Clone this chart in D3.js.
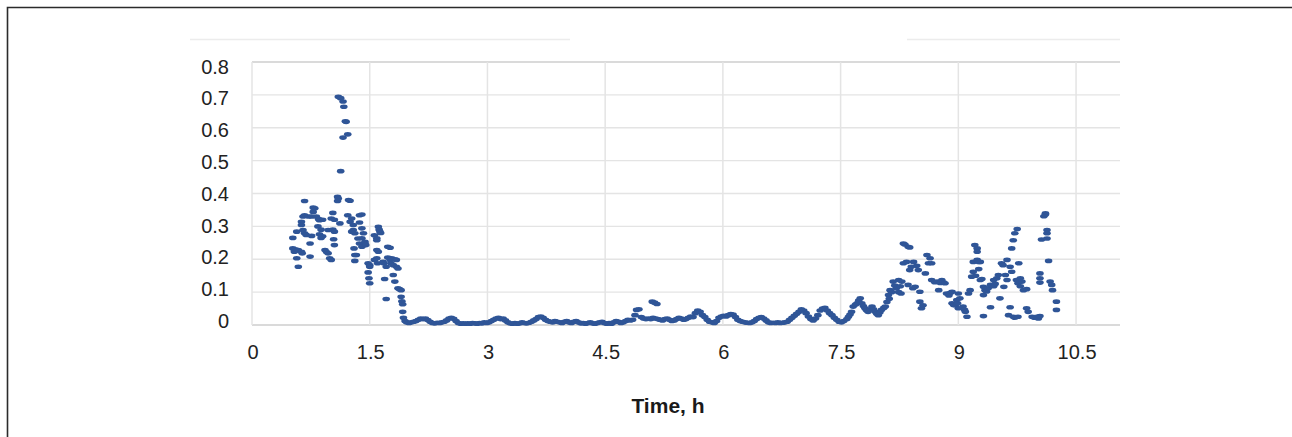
<!DOCTYPE html>
<html>
<head>
<meta charset="utf-8">
<script src="https://cdn.jsdelivr.net/npm/d3@7"></script>
<style>
  html, body { margin: 0; padding: 0; background: #fff; }
  svg { display: block; }
</style>
</head>
<body>
<svg id="chart" width="1292" height="437"></svg>
<script>
// Axis ticks
const xTicks = [0, 1.5, 3, 4.5, 6, 7.5, 9, 10.5];
const xTickLabels = ["0", "1.5", "3", "4.5", "6", "7.5", "9", "10.5"];
const yTicks = [0, 0.1, 0.2, 0.3, 0.4, 0.5, 0.6, 0.7, 0.8];
const yTickLabels = ["0", "0.1", "0.2", "0.3", "0.4", "0.5", "0.6", "0.7", "0.8"];
const xTitle = "Time, h";

// Readings as [time (h), value]
const startPhase = [
  [0.52,0.265],[0.52,0.233],[0.54,0.223],[0.55,0.230],[0.57,0.284],[0.57,0.203],[0.59,0.177],[0.59,0.228],
  [0.63,0.314],[0.63,0.304],[0.63,0.223],[0.64,0.218],[0.65,0.330],[0.65,0.289],[0.67,0.377],[0.67,0.334],
  [0.67,0.279],[0.69,0.274],[0.72,0.330],[0.74,0.248],[0.74,0.208],[0.76,0.271],[0.76,0.330],[0.78,0.357],
  [0.78,0.344],[0.80,0.355],[0.82,0.330],[0.84,0.300],[0.85,0.322],[0.86,0.319],[0.86,0.276],[0.88,0.265],
  [0.88,0.290],[0.90,0.320],[0.90,0.270],[0.93,0.228],[0.95,0.222],[0.97,0.289],[0.97,0.218],[0.99,0.203],
  [1.01,0.324],[1.01,0.198],[1.03,0.341],[1.03,0.290],[1.04,0.261],[1.05,0.320],[1.05,0.284],[1.05,0.243],
  [1.09,0.390],[1.09,0.377],[1.10,0.694],[1.10,0.385],[1.12,0.309],[1.13,0.690],[1.13,0.468],[1.16,0.680],
  [1.16,0.570],[1.17,0.664],[1.19,0.620],[1.20,0.618],[1.22,0.580],[1.22,0.334],[1.23,0.380],[1.25,0.378],
  [1.25,0.314],[1.27,0.324],[1.27,0.284],[1.29,0.304],[1.29,0.289],[1.30,0.233],[1.31,0.279],[1.31,0.213],
  [1.31,0.195],[1.33,0.213],[1.35,0.263],[1.37,0.312],[1.37,0.334],[1.37,0.248],[1.40,0.336],[1.40,0.294],
  [1.40,0.264],[1.40,0.238],[1.42,0.279],[1.44,0.253],[1.44,0.248],[1.45,0.243],[1.48,0.188],[1.48,0.160],
  [1.49,0.142],[1.50,0.182],[1.50,0.177],[1.50,0.127],[1.56,0.273],[1.56,0.198],[1.59,0.264],[1.59,0.203],
  [1.59,0.228],[1.59,0.258],[1.60,0.188],[1.61,0.299],[1.61,0.223],[1.62,0.290],[1.63,0.284],[1.64,0.280],
  [1.67,0.192],[1.68,0.188],[1.69,0.140],[1.71,0.177],[1.71,0.079],[1.73,0.205],[1.73,0.238],[1.76,0.235],
  [1.76,0.198],[1.77,0.188],[1.78,0.203],[1.80,0.182],[1.80,0.152],[1.82,0.132],[1.82,0.200],[1.84,0.177],
  [1.84,0.198],[1.86,0.172],[1.86,0.112],[1.88,0.109],[1.90,0.086],[1.90,0.106],[1.91,0.072],[1.92,0.063],
  [1.92,0.040],[1.93,0.022]
];

const quietPhase = [
  [1.95,0.012],[1.97,0.008],[2.00,0.006],[2.03,0.008],[2.06,0.010],[2.09,0.012],[2.12,0.016],[2.15,0.020],
  [2.18,0.018],[2.21,0.020],[2.24,0.015],[2.27,0.010],[2.30,0.006],[2.33,0.005],[2.36,0.007],[2.39,0.006],
  [2.42,0.008],[2.45,0.010],[2.48,0.014],[2.51,0.020],[2.54,0.022],[2.57,0.019],[2.60,0.012],[2.63,0.006],
  [2.66,0.004],[2.69,0.005],[2.72,0.004],[2.75,0.005],[2.78,0.004],[2.81,0.006],[2.84,0.005],[2.87,0.004],
  [2.90,0.006],[2.93,0.005],[2.96,0.008],[2.99,0.006],[3.02,0.008],[3.05,0.012],[3.08,0.016],[3.11,0.020],
  [3.14,0.022],[3.17,0.018],[3.20,0.020],[3.23,0.014],[3.26,0.008],[3.29,0.005],[3.32,0.004],[3.35,0.006],
  [3.38,0.004],[3.41,0.005],[3.44,0.008],[3.47,0.006],[3.50,0.005],[3.53,0.007],[3.56,0.010],[3.59,0.014],
  [3.62,0.018],[3.65,0.024],[3.68,0.026],[3.71,0.022],[3.74,0.016],[3.77,0.012],[3.80,0.010],[3.83,0.008],
  [3.86,0.012],[3.89,0.010],[3.92,0.008],[3.95,0.006],[3.98,0.010],[4.01,0.012],[4.04,0.008],[4.07,0.006],
  [4.10,0.010],[4.13,0.012],[4.16,0.008],[4.19,0.005],[4.22,0.006],[4.25,0.004],[4.28,0.006],[4.31,0.008],
  [4.34,0.005],[4.37,0.004],[4.40,0.006],[4.43,0.008],[4.46,0.010],[4.49,0.006],[4.52,0.004],[4.55,0.006],
  [4.58,0.004],[4.61,0.008],[4.64,0.012],[4.67,0.010],[4.70,0.006],[4.73,0.008],[4.76,0.012],[4.79,0.016],
  [4.82,0.014],[4.85,0.016],[4.88,0.030],[4.90,0.046],[4.93,0.048],[4.96,0.024],[4.99,0.020],[5.02,0.018],
  [5.05,0.020],[5.08,0.018],[5.10,0.071],[5.13,0.068],[5.16,0.064],[5.11,0.022],[5.14,0.020],[5.17,0.018],
  [5.20,0.016],[5.23,0.014],[5.26,0.018],[5.29,0.020],[5.32,0.016],[5.35,0.012],[5.38,0.014],[5.41,0.018],
  [5.44,0.022],[5.47,0.020],[5.50,0.016],[5.53,0.018],[5.56,0.022],[5.59,0.026],[5.62,0.024],[5.65,0.036],
  [5.68,0.044],[5.71,0.040],[5.74,0.030],[5.77,0.024],[5.80,0.016],[5.83,0.010],[5.86,0.008],[5.89,0.006],
  [5.92,0.012],[5.95,0.022],[5.98,0.026],[6.01,0.028],[6.04,0.026],[6.07,0.030],[6.10,0.033],[6.13,0.032],
  [6.16,0.024],[6.19,0.016],[6.22,0.012],[6.25,0.010],[6.28,0.008],[6.31,0.007],[6.34,0.006],[6.37,0.008],
  [6.40,0.012],[6.43,0.018],[6.46,0.022],[6.49,0.024],[6.52,0.020],[6.55,0.014],[6.58,0.008],[6.61,0.006],
  [6.64,0.007],[6.67,0.006],[6.70,0.008],[6.73,0.006],[6.76,0.007],[6.79,0.008],[6.82,0.010],[6.85,0.016],
  [6.88,0.022],[6.91,0.028],[6.94,0.034],[6.97,0.040],[7.00,0.048],[7.03,0.044],[7.06,0.036],[7.09,0.026],
  [7.12,0.018],[7.15,0.014],[7.18,0.020],[7.21,0.030],[7.24,0.044],[7.27,0.050],[7.30,0.052],[7.33,0.044],
  [7.36,0.036],[7.39,0.030],[7.42,0.022],[7.45,0.016],[7.48,0.010],[7.51,0.008],[7.54,0.012]
];

const latePhase = [
  [7.58,0.018],[7.60,0.025],[7.62,0.032],[7.64,0.040],[7.66,0.056],[7.69,0.062],[7.71,0.066],[7.73,0.074],
  [7.75,0.081],[7.77,0.066],[7.79,0.058],[7.81,0.051],[7.83,0.045],[7.85,0.040],[7.88,0.048],[7.90,0.056],
  [7.92,0.048],[7.94,0.040],[7.96,0.034],[7.98,0.030],[8.00,0.038],[8.02,0.046],[8.05,0.052],[8.07,0.056],
  [8.09,0.070],[8.11,0.091],[8.12,0.080],[8.13,0.106],[8.15,0.100],[8.17,0.132],[8.19,0.120],[8.21,0.112],
  [8.24,0.137],[8.26,0.118],[8.28,0.132],[8.24,0.100],[8.27,0.096],[8.30,0.248],[8.32,0.245],[8.36,0.238],
  [8.38,0.236],[8.30,0.188],[8.34,0.192],[8.36,0.122],[8.38,0.167],[8.40,0.177],[8.42,0.112],[8.43,0.192],
  [8.45,0.116],[8.47,0.180],[8.49,0.167],[8.51,0.101],[8.51,0.071],[8.53,0.051],[8.55,0.060],[8.58,0.157],
  [8.60,0.213],[8.62,0.188],[8.64,0.203],[8.66,0.188],[8.66,0.137],[8.70,0.130],[8.73,0.132],[8.75,0.106],
  [8.77,0.128],[8.79,0.137],[8.81,0.130],[8.83,0.127],[8.85,0.096],[8.88,0.090],[8.90,0.098],[8.92,0.101],
  [8.92,0.066],[8.94,0.061],[8.96,0.060],[8.98,0.076],[8.99,0.066],[9.00,0.096],[9.00,0.051],[9.02,0.081],
  [9.06,0.056],[9.08,0.046],[9.09,0.040],[9.11,0.025],[9.13,0.096],[9.15,0.106],[9.17,0.147],[9.19,0.162],
  [9.19,0.192],[9.21,0.243],[9.22,0.150],[9.24,0.233],[9.24,0.223],[9.24,0.198],[9.26,0.192],[9.26,0.170],
  [9.28,0.137],[9.28,0.192],[9.30,0.140],[9.32,0.116],[9.32,0.091],[9.32,0.027],[9.34,0.106],[9.36,0.102],
  [9.38,0.112],[9.41,0.122],[9.41,0.054],[9.45,0.137],[9.45,0.118],[9.47,0.125],[9.49,0.142],[9.51,0.152],
  [9.53,0.081],[9.55,0.188],[9.57,0.182],[9.58,0.116],[9.60,0.152],[9.62,0.137],[9.62,0.198],[9.64,0.030],
  [9.66,0.054],[9.66,0.177],[9.68,0.162],[9.68,0.233],[9.70,0.258],[9.70,0.025],[9.72,0.279],[9.72,0.022],
  [9.74,0.137],[9.75,0.292],[9.76,0.127],[9.76,0.025],[9.77,0.188],[9.79,0.142],[9.79,0.118],[9.81,0.132],
  [9.83,0.106],[9.87,0.051],[9.87,0.109],[9.89,0.040],[9.94,0.025],[9.97,0.022],[10.00,0.025],[10.02,0.020],
  [10.04,0.027],[10.04,0.157],[10.04,0.142],[10.04,0.129],[10.06,0.260],[10.09,0.331],[10.11,0.340],[10.11,0.336],
  [10.13,0.289],[10.13,0.279],[10.13,0.263],[10.15,0.195],[10.17,0.132],[10.19,0.122],[10.20,0.106],[10.25,0.071],
  [10.25,0.046]
];

const svg = d3.select("#chart");
const font = "'Liberation Sans', Arial, sans-serif";
const plot = { left: 252, right: 1120, top: 62, bottom: 325 };

const x = d3.scaleLinear().domain([0, 11.06]).range([plot.left, plot.right]);
const y = d3.scaleLinear().domain([0, 0.8]).range([plot.bottom, plot.top]);
// Tick labels sit on a slightly tighter vertical spread than the gridlines
const yLabel = d3.scaleLinear().domain([0, 0.8]).range([321, 66.5]);

// Outer frame (top and left edges)
svg.append("path")
  .attr("d", "M7.5,437 V7.5 H1292")
  .attr("fill", "none")
  .attr("stroke", "#2b2b2b")
  .attr("stroke-width", 1.6);

// Faint header rule above the plot
svg.append("g").selectAll("line")
  .data([[190, 570], [907, 1120]])
  .join("line")
  .attr("x1", d => d[0]).attr("x2", d => d[1])
  .attr("y1", 39.5).attr("y2", 39.5)
  .attr("stroke", "#ececec").attr("stroke-width", 1.5);

// Horizontal gridlines
svg.append("g").selectAll("line")
  .data(yTicks)
  .join("line")
  .attr("x1", plot.left).attr("x2", plot.right)
  .attr("y1", d => y(d)).attr("y2", d => y(d))
  .attr("stroke", d => (d === 0 || d === 0.8) ? "#dadada" : "#e4e4e4")
  .attr("stroke-width", d => (d === 0 || d === 0.8) ? 2 : 1.3);

// Vertical gridlines
svg.append("g").selectAll("line")
  .data(xTicks)
  .join("line")
  .attr("x1", d => x(d)).attr("x2", d => x(d))
  .attr("y1", plot.top).attr("y2", plot.bottom)
  .attr("stroke", "#e4e4e4")
  .attr("stroke-width", 1.5);

// Y tick labels
svg.append("g").selectAll("text")
  .data(yTicks)
  .join("text")
  .attr("x", 229)
  .attr("y", d => yLabel(d))
  .attr("text-anchor", "end")
  .attr("dominant-baseline", "central")
  .attr("font-family", font)
  .attr("font-size", 20)
  .attr("fill", "#222")
  .text((d, i) => yTickLabels[i]);

// X tick labels
svg.append("g").selectAll("text")
  .data(xTicks)
  .join("text")
  .attr("x", d => x(d) + 1)
  .attr("y", 352)
  .attr("text-anchor", "middle")
  .attr("dominant-baseline", "central")
  .attr("font-family", font)
  .attr("font-size", 20)
  .attr("fill", "#222")
  .text((d, i) => xTickLabels[i]);

// X axis title
svg.append("text")
  .attr("x", 668)
  .attr("y", 405)
  .attr("text-anchor", "middle")
  .attr("dominant-baseline", "central")
  .attr("font-family", font)
  .attr("font-size", 21)
  .attr("font-weight", "bold")
  .attr("fill", "#1a1a1a")
  .text(xTitle);

// Data markers
const readings = startPhase.concat(quietPhase, latePhase);
svg.append("g").selectAll("ellipse")
  .data(readings)
  .join("ellipse")
  .attr("cx", d => x(d[0]))
  .attr("cy", d => y(d[1]))
  .attr("rx", 3.8)
  .attr("ry", 2.3)
  .attr("fill", "#2F5597");
</script>
</body>
</html>
